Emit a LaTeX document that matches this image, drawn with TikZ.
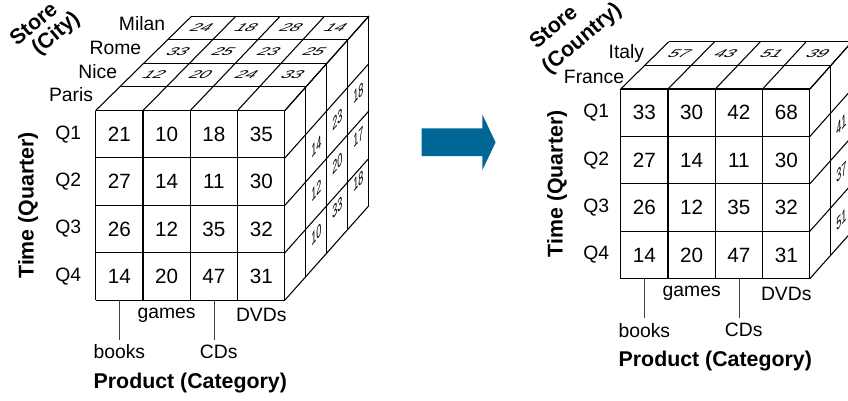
\documentclass[tikz,border=0pt]{standalone}
\usepackage{fontspec}
\setmainfont{Liberation Sans}
\usetikzlibrary{shapes.arrows}
\definecolor{rollblue}{RGB}{0,102,150}
\tikzset{cell/.style={font=\fontsize{15.5}{18}\selectfont},
    lbl/.style={font=\fontsize{14.5}{17}\selectfont},
    axis/.style={font=\fontsize{16}{17}\selectfont\bfseries},
    storelbl/.style={font=\fontsize{16}{17}\selectfont\bfseries, inner sep=1pt, rotate=40},
    topnum/.style={font=\fontsize{13.5}{16}\selectfont, inner sep=0pt, xslant=1, yscale=0.62},
    sidenum/.style={font=\fontsize{13.5}{16}\selectfont, inner sep=0pt, yslant=1.12, xscale=0.5},
    tick/.style={line width=0.6pt, black!75},
    bigarrow/.style={single arrow, fill=rollblue, draw=none, inner sep=0pt,
        minimum height=55.5pt, minimum width=41.25pt,
        single arrow head extend=10.6pt, single arrow tip angle=129}}
\newcommand{\cellw}{47.3}
\newcommand{\cellh}{47.4}
\newcommand{\depthy}{-23.6}
\newcommand{\lslant}{24}
\newcommand{\rslant}{21}
% grid of one cube, #1 = number of layers
\newcommand{\cubegrid}[1]{%
    \foreach \i in {0,...,4} {
        \draw (\i*\cellw,0) -- (\i*\cellw,4*\cellh);
        \draw (0,\i*\cellh) -- (4*\cellw,\i*\cellh);
        \draw (\i*\cellw,0) -- ++({#1*(\lslant-(\lslant-\rslant)*\i/4)},#1*\depthy);
        \draw (4*\cellw,\i*\cellh) -- ++(#1*\rslant,#1*\depthy);
    }
    \foreach \lay in {1,...,#1} {
        \draw (\lay*\lslant,\lay*\depthy) -- (4*\cellw+\lay*\rslant,\lay*\depthy);
        \draw (4*\cellw+\lay*\rslant,\lay*\depthy) -- ++(0,4*\cellh);
    }}

\begin{document}
\begin{tikzpicture}[x=0.75pt,y=-0.75pt,line width=0.8pt]
    \path[use as bounding box, clip] (0,0) rectangle (848,400);

    % cube by city
    \begin{scope}[shift={(95.7,110.5)}]
        \cubegrid{4}
        \foreach \vals [count=\row from 0] in {{21,10,18,35},{27,14,11,30},{26,12,35,32},{14,20,47,31}}
            \foreach \n [count=\col from 0] in \vals
                \node[cell] (city-\row-\col) at ({(\col+0.5)*\cellw},{(\row+0.5)*\cellh}) {\n};
        \foreach \city [count=\lay from 0] in {Paris,Nice,Rome,Milan}
            \node[lbl, anchor=east] (\city) at ({(\lay+0.5)*\lslant-9.6},{(\lay+0.5)*\depthy-4}) {\city};
        \foreach \vals [count=\lay from 1] in {{12,20,24,33},{33,25,23,25},{24,18,28,14}}
            \foreach \n [count=\col from 0] in \vals
                \node[topnum] (citytop-\lay-\col) at ({(\col+0.5)*\cellw+(\lay+0.5)*(\lslant-(\lslant-\rslant)*(\col+0.5)/4)},{(\lay+0.5)*\depthy}) {\n};
        \foreach \vals [count=\lay from 1] in {{14,12,10},{23,20,33},{18,17,18}}
            \foreach \n [count=\row from 1] in \vals
                \node[sidenum] (cityside-\lay-\row) at ({4*\cellw+(\lay+0.5)*\rslant},{1.5*\cellh+(\row-1)*44+(\lay+0.5)*\depthy-(\lay-1)*3}) {\n};
        \foreach \q [count=\row from 0] in {Q1,Q2,Q3,Q4}
            \node[lbl, anchor=east] (cityq\row) at (-9.5,{(\row+0.5)*\cellh}) {\q};
        \node[lbl] (cgames) at (1.5*\cellw,4*\cellh+15) {games};
        \node[lbl] (cdvds) at (3.5*\cellw,4*\cellh+15) {DVDs};
        \node[lbl] (cbooks) at (0.5*\cellw,4*\cellh+51.5) {books};
        \node[lbl] (ccds) at (2.6*\cellw,4*\cellh+51.5) {CDs};
        \coordinate (cbk) at (0.5*\cellw,4*\cellh);
        \coordinate (ccd) at (2.5*\cellw,4*\cellh);
        \draw[tick] (cbk) -- (cbk |- cbooks.north);
        \draw[tick] (ccd) -- (ccd |- ccds.north);
        \node[axis] (cprod) at (2*\cellw,4*\cellh+83) {Product (Category)};
        \node[axis, rotate=90] (ctime) at (-67.7,2*\cellh) {Time (Quarter)};
        \node[storelbl] (cstore) at (-62.5,-87.2) {Store};
        \node[storelbl] (ccity) at (-39.4,-76.5) {(City)};
    \end{scope}

    \node[bigarrow] (rollup) at (455.3,142.3) {\rule{0pt}{20pt}};

    % cube by country
    \begin{scope}[shift={(620.7,89)}]
        \cubegrid{2}
        \foreach \vals [count=\row from 0] in {{33,30,42,68},{27,14,11,30},{26,12,35,32},{14,20,47,31}}
            \foreach \n [count=\col from 0] in \vals
                \node[cell] (country-\row-\col) at ({(\col+0.5)*\cellw},{(\row+0.5)*\cellh}) {\n};
        \foreach \country [count=\lay from 0] in {France,Italy}
            \node[lbl, anchor=east] (\country) at ({(\lay+0.5)*\lslant-3.6-4*\lay},{(\lay+0.5)*\depthy}) {\country};
        \foreach \n [count=\col from 0] in {57,43,51,39}
            \node[topnum] (countrytop-\col) at ({(\col+0.5)*\cellw+1.5*(\lslant-(\lslant-\rslant)*(\col+0.5)/4)},{1.5*\depthy}) {\n};
        \foreach \n [count=\row from 1] in {41,37,51}
            \node[sidenum] (countryside-\row) at ({4*\cellw+1.5*\rslant},{(\row+0.5)*\cellh+1.5*\depthy}) {\n};
        \foreach \q [count=\row from 0] in {Q1,Q2,Q3,Q4}
            \node[lbl, anchor=east] (countryq\row) at (-6.5,{(\row+0.5)*\cellh}) {\q};
        \node[lbl] (kgames) at (1.5*\cellw,4*\cellh+15) {games};
        \node[lbl] (kdvds) at (3.5*\cellw,4*\cellh+15) {DVDs};
        \node[lbl] (kbooks) at (0.5*\cellw,4*\cellh+51.5) {books};
        \node[lbl] (kcds) at (2.6*\cellw,4*\cellh+51.5) {CDs};
        \coordinate (kbk) at (0.5*\cellw,4*\cellh);
        \coordinate (kcd) at (2.5*\cellw,4*\cellh);
        \draw[tick] (kbk) -- (kbk |- kbooks.north);
        \draw[tick] (kcd) -- (kcd |- kcds.north);
        \node[axis] (kprod) at (2*\cellw,4*\cellh+82) {Product (Category)};
        \node[axis, rotate=90] (ktime) at (-63.7,2*\cellh) {Time (Quarter)};
        \node[storelbl] (kstore) at (-67.7,-62.5) {Store};
        \node[storelbl] (kcountry) at (-38.4,-50) {(Country)};
    \end{scope}
\end{tikzpicture}
\end{document}
